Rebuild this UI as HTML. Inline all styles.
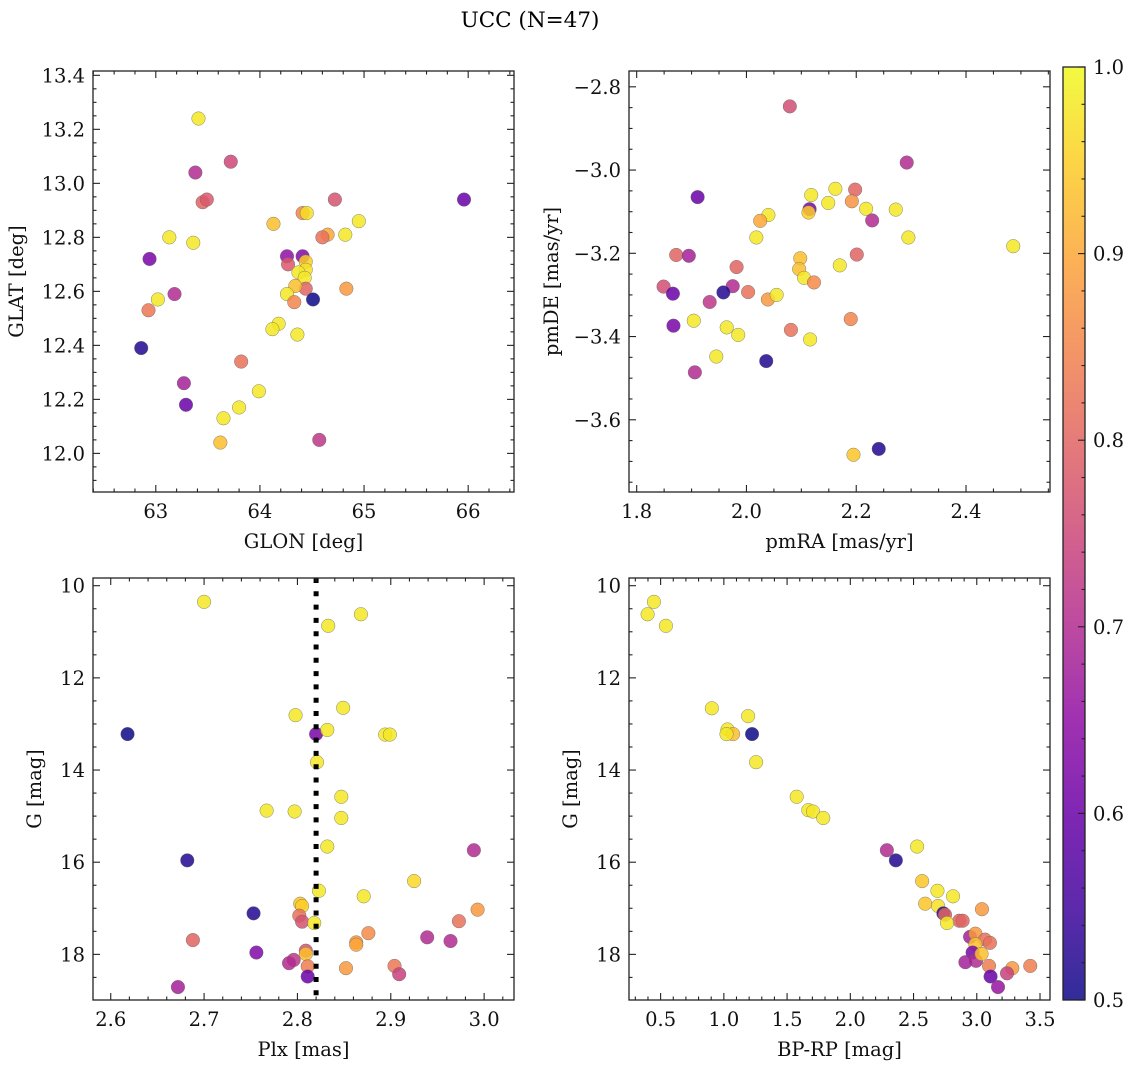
<!DOCTYPE html>
<html><head><meta charset="utf-8">
<style>
html,body{margin:0;padding:0;background:#fff;}
svg{display:block;font-family:"DejaVu Serif","Liberation Serif",serif;}
</style></head>
<body>
<svg id="fig" width="1136" height="1067" viewBox="0 0 1136 1067" xmlns="http://www.w3.org/2000/svg">
<text x="530" y="27" text-anchor="middle" font-size="21.5">UCC (N=47)</text>
</svg>
<script>
// ---- Panel 1: GLON vs GLAT ----
const glon1=[63.41,63.72,63.38,63.45,63.49,65.96,64.41,64.45,64.72,64.95,64.13,64.65,64.60,64.82,63.13,63.36,62.94,64.26,64.41,64.27,64.44,64.44,64.37,64.43,64.44,64.34,64.26,64.33,64.83,64.51,63.02,63.18,62.93,64.18,64.12,64.36,62.86,63.82,63.27,63.99,63.29,63.80,63.65,63.62,64.57];
const glat1=[13.24,13.08,13.04,12.93,12.94,12.94,12.89,12.89,12.94,12.86,12.85,12.81,12.80,12.81,12.80,12.78,12.72,12.73,12.73,12.70,12.71,12.68,12.67,12.65,12.61,12.62,12.59,12.56,12.61,12.57,12.57,12.59,12.53,12.48,12.46,12.44,12.39,12.34,12.26,12.23,12.18,12.17,12.13,12.04,12.05];
const prob1=[0.98,0.75,0.7,0.8,0.78,0.6,0.85,0.97,0.77,0.98,0.93,0.9,0.82,0.98,0.98,0.98,0.62,0.65,0.63,0.78,0.95,0.97,0.98,0.98,0.8,0.93,0.98,0.85,0.88,0.5,0.98,0.7,0.83,0.98,0.98,0.98,0.52,0.82,0.68,0.98,0.6,0.98,0.98,0.93,0.72];
// ---- Panel 2: pmRA vs pmDE ----
const pmra2=[2.079,2.292,1.911,2.162,2.198,2.118,2.149,2.192,2.218,2.272,2.115,2.113,2.229,2.040,2.025,2.018,2.295,2.486,1.872,1.895,2.201,2.098,2.170,1.982,2.096,2.105,2.123,1.849,1.975,1.866,1.958,2.003,2.039,2.055,1.933,1.867,1.904,1.964,1.985,2.190,2.081,2.116,1.945,2.036,1.906,2.241,2.195];
const pmde2=[-2.847,-2.982,-3.065,-3.045,-3.047,-3.06,-3.079,-3.075,-3.093,-3.095,-3.094,-3.102,-3.121,-3.108,-3.122,-3.162,-3.162,-3.183,-3.204,-3.206,-3.203,-3.212,-3.229,-3.233,-3.238,-3.259,-3.270,-3.280,-3.279,-3.297,-3.294,-3.293,-3.311,-3.300,-3.317,-3.374,-3.362,-3.378,-3.396,-3.358,-3.384,-3.407,-3.448,-3.459,-3.486,-3.670,-3.684];
const prob2=[0.76,0.7,0.6,0.98,0.8,0.98,0.98,0.87,0.98,0.98,0.62,0.95,0.7,0.98,0.9,0.98,0.98,0.98,0.8,0.68,0.8,0.93,0.98,0.8,0.93,0.98,0.86,0.76,0.7,0.6,0.52,0.82,0.88,0.98,0.72,0.62,0.98,0.98,0.98,0.85,0.82,0.98,0.98,0.52,0.7,0.52,0.94];
// ---- Panel 3: Plx vs G ----
const plx3=[2.700,2.868,2.833,2.798,2.849,2.618,2.820,2.832,2.894,2.899,2.821,2.847,2.767,2.797,2.847,2.832,2.989,2.682,2.925,2.823,2.871,2.803,2.805,2.993,2.753,2.802,2.805,2.818,2.973,2.688,2.876,2.863,2.863,2.939,2.964,2.756,2.809,2.809,2.796,2.791,2.811,2.852,2.904,2.909,2.811,2.672];
const g3=[10.35,10.62,10.87,12.81,12.65,13.22,13.22,13.13,13.23,13.23,13.83,14.58,14.88,14.90,15.04,15.66,15.74,15.96,16.41,16.62,16.74,16.90,16.95,17.03,17.11,17.16,17.29,17.32,17.28,17.69,17.54,17.74,17.79,17.63,17.71,17.96,17.92,17.99,18.12,18.19,18.26,18.30,18.25,18.43,18.48,18.71];
const prob3=[0.98,0.98,0.98,0.98,0.98,0.5,0.62,0.98,0.98,0.98,0.98,0.98,0.98,0.98,0.98,0.98,0.7,0.52,0.96,0.98,0.98,0.94,0.95,0.88,0.52,0.82,0.77,0.98,0.82,0.8,0.86,0.87,0.9,0.7,0.7,0.63,0.77,0.93,0.72,0.7,0.84,0.88,0.83,0.74,0.6,0.68];
const plxLine=2.82;
// ---- Panel 4: BP-RP vs G ----
const bprp4=[0.447,0.397,0.542,0.905,1.192,1.029,1.073,1.021,1.223,1.255,1.576,1.668,1.705,1.786,2.289,2.360,2.528,2.568,2.689,2.812,2.592,2.694,3.041,2.736,2.749,2.862,2.888,2.765,2.947,2.989,3.065,3.104,2.989,2.967,2.994,3.038,2.910,3.097,3.281,3.423,3.239,3.109,3.168];
const g4=[10.35,10.62,10.87,12.66,12.83,13.12,13.22,13.22,13.22,13.83,14.58,14.87,14.90,15.04,15.74,15.96,15.66,16.41,16.62,16.74,16.90,16.95,17.02,17.11,17.14,17.27,17.27,17.32,17.62,17.55,17.68,17.75,17.78,17.96,18.14,17.99,18.17,18.25,18.30,18.25,18.41,18.48,18.71];
const prob4=[0.98,0.98,0.98,0.98,0.98,0.98,0.93,0.98,0.5,0.98,0.98,0.98,0.98,0.98,0.7,0.52,0.98,0.94,0.98,0.98,0.94,0.97,0.88,0.52,0.8,0.8,0.8,0.98,0.68,0.88,0.82,0.82,0.93,0.62,0.7,0.93,0.68,0.84,0.88,0.84,0.74,0.6,0.66];
// ---- Colorbar ticks ----
const cbTicks=[0.5,0.6,0.7,0.8,0.9,1.0];

const NS="http://www.w3.org/2000/svg";
const svg=document.getElementById('fig');
const FS=19.5;
function mk(tag,attrs,parent){const e=document.createElementNS(NS,tag);for(const k in attrs)e.setAttribute(k,attrs[k]);(parent||svg).appendChild(e);return e;}
const plasma=[[13,8,135],[65,4,157],[106,0,168],[143,13,164],[177,42,144],[204,71,120],[225,100,98],[242,132,75],[252,166,54],[252,206,37],[240,249,33]];
function cmap(v){let t=(v-0.5)/0.5;t=Math.max(0,Math.min(1,t));const p=t*10,i=Math.min(9,Math.floor(p)),f=p-i;const a=plasma[i],b=plasma[i+1];return 'rgb('+a.map((c,k)=>Math.round(c+(b[k]-c)*f)).join(',')+')';}
function fmt(v,d){const s=v.toFixed(d);return v<0?'\u2212'+s.slice(1):s;}

function panel(o){
  const g=mk('g',{});
  
  
  const X=v=>o.x0+(v-o.xmin)/(o.xmax-o.xmin)*(o.x1-o.x0);
  const Y=o.yinv?(v=>o.y0+(v-o.ymin)/(o.ymax-o.ymin)*(o.y1-o.y0)):(v=>o.y1-(v-o.ymin)/(o.ymax-o.ymin)*(o.y1-o.y0));
  const pg=mk('g',{},g);
  
  
  for(let i=0;i<o.xs.length;i++){
    const c=mk('circle',{cx:X(o.xs[i]),cy:Y(o.ys[i]),r:6.8,fill:cmap(o.cs[i]),'fill-opacity':0.85,stroke:'#666','stroke-width':0.5,'stroke-opacity':0.8},pg);
    
    
  }
  if(o.vline!==undefined){
    const l=mk('line',{x1:X(o.vline),x2:X(o.vline),y1:o.y0,y2:o.y1,stroke:'#000','stroke-width':5,'stroke-dasharray':'5 8.3'},g);
    
    
  }
  const frame=mk('rect',{x:o.x0,y:o.y0,width:o.x1-o.x0,height:o.y1-o.y0,fill:'none',stroke:'#222','stroke-width':1.3},g);
  
  
  const tg=mk('g',{stroke:'#222','stroke-width':1.1},g);
  
  
  const n=v=>Math.round(v*1e6)/1e6;
  for(let v=Math.ceil(o.xmin/o.xminor)*o.xminor;v<=o.xmax+1e-9;v+=o.xminor){
    const vv=n(v),isM=Math.abs(vv/o.xmajor-Math.round(vv/o.xmajor))<1e-6,L=isM?7:3.5,x=X(vv);
    mk('line',{x1:x,x2:x,y1:o.y1,y2:o.y1-L},tg);mk('line',{x1:x,x2:x,y1:o.y0,y2:o.y0+L},tg);
    if(isM){const t=mk('text',{x:x,y:o.y1+26,'text-anchor':'middle','font-size':FS,stroke:'none',fill:'#111'},g);t.textContent=fmt(vv,o.xd);
      }
  }
  for(let v=Math.ceil(o.ymin/o.yminor)*o.yminor;v<=o.ymax+1e-9;v+=o.yminor){
    const vv=n(v),isM=Math.abs(vv/o.ymajor-Math.round(vv/o.ymajor))<1e-6,L=isM?7:3.5,y=Y(vv);
    mk('line',{x1:o.x0,x2:o.x0+L,y1:y,y2:y},tg);mk('line',{x1:o.x1,x2:o.x1-L,y1:y,y2:y},tg);
    if(isM){const t=mk('text',{x:o.x0-8,y:y+7,'text-anchor':'end','font-size':FS,stroke:'none',fill:'#111'},g);t.textContent=fmt(vv,o.yd);
      }
  }
  const xl=mk('text',{x:(o.x0+o.x1)/2,y:o.y1+56,'text-anchor':'middle','font-size':FS,fill:'#111'},g);xl.textContent=o.xlabel;
  
  const yc=(o.y0+o.y1)/2;
  const yl=mk('text',{x:o.ylx,y:yc,'text-anchor':'middle','font-size':FS,fill:'#111',transform:'rotate(-90 '+o.ylx+' '+yc+')'},g);yl.textContent=o.ylabel;
  
}
panel({name:'panel-glon-glat',x0:93,x1:514,y0:71,y1:492,xmin:62.397,xmax:66.44,ymin:11.857,ymax:13.416,xmajor:1,xminor:0.2,ymajor:0.2,yminor:0.05,xd:0,yd:1,xs:glon1,ys:glat1,cs:prob1,xlabel:'GLON [deg]',ylabel:'GLAT [deg]',ylx:23});
panel({name:'panel-pmra-pmde',x0:629,x1:1050,y0:71,y1:492,xmin:1.786,xmax:2.553,ymin:-3.7735,ymax:-2.762,xmajor:0.2,xminor:0.05,ymajor:0.2,yminor:0.05,xd:1,yd:1,xs:pmra2,ys:pmde2,cs:prob2,xlabel:'pmRA [mas/yr]',ylabel:'pmDE [mas/yr]',ylx:558});
panel({name:'panel-plx-g',x0:93,x1:514,y0:578,y1:1000,xmin:2.581,xmax:3.032,ymin:9.833,ymax:18.99,yinv:true,xmajor:0.1,xminor:0.02,ymajor:2,yminor:0.5,xd:1,yd:0,xs:plx3,ys:g3,cs:prob3,vline:plxLine,xlabel:'Plx [mas]',ylabel:'G [mag]',ylx:41});
panel({name:'panel-bprp-g',x0:629,x1:1050,y0:578,y1:1000,xmin:0.25,xmax:3.579,ymin:9.833,ymax:18.99,yinv:true,xmajor:0.5,xminor:0.1,ymajor:2,yminor:0.5,xd:1,yd:0,xs:bprp4,ys:g4,cs:prob4,xlabel:'BP-RP [mag]',ylabel:'G [mag]',ylx:577});

(function(){
  const cx0=1063,cx1=1085,cy0=67,cy1=1000;
  const g=mk('g',{});
  
  
  const defs=mk('defs',{},g);
  const lg=mk('linearGradient',{id:'cbg',x1:0,y1:1,x2:0,y2:0},defs);
  for(let i=0;i<=20;i++){mk('stop',{offset:(i/20),'stop-color':cmap(0.5+i/40)},lg);}
  const r=mk('rect',{x:cx0,y:cy0,width:cx1-cx0,height:cy1-cy0,fill:'url(#cbg)','fill-opacity':0.85,stroke:'#222','stroke-width':1.3},g);
  
  
  const Y=v=>cy1-(v-0.5)/0.5*(cy1-cy0);
  for(let k=0;k<=25;k++){const v=0.5+k*0.02,y=Y(v),isM=k%5===0;
    mk('line',{x1:cx1,x2:cx1-(isM?7:3.5),y1:y,y2:y,stroke:'#222','stroke-width':1.1},g);}
  cbTicks.forEach(v=>{const t=mk('text',{x:cx1+8,y:Y(v)+7,'font-size':FS,fill:'#111'},g);t.textContent=v.toFixed(1);
    });
})();
</script>
</body></html>
